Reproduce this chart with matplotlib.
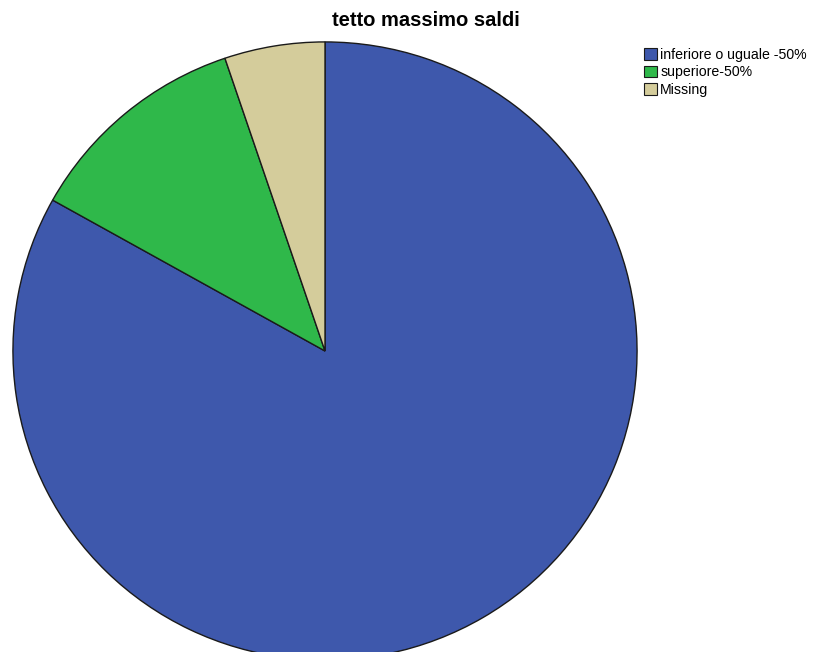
import matplotlib.pyplot as plt
from matplotlib.patches import Patch

plt.rcParams["font.family"] = ["Liberation Sans", "DejaVu Sans"]

labels = ["inferiore o uguale -50%", "superiore-50%", "Missing"]
counts = [64, 9, 4]
colors = ["#3E58AC", "#2FB84A", "#D4CC9B"]

fig = plt.figure(figsize=(8.17, 6.52), dpi=100)
ax = fig.add_axes([12 / 817, -9 / 652, 626 / 817, 620 / 652])
ax.pie(counts, colors=colors, startangle=90, counterclock=False, radius=1.0,
       wedgeprops={"edgecolor": "#1a1a1a", "linewidth": 1.0})
ax.set_xlim(-1.003, 1.003)
ax.set_ylim(-1.003, 1.003)
ax.set_aspect("auto")
ax.axis("off")

fig.text(426 / 817, 1 - 20 / 652, "tetto massimo saldi", ha="center", va="center",
         fontsize=14.5, fontweight="bold")

handles = [Patch(facecolor=c, edgecolor="#1a1a1a", linewidth=0.8) for c in colors]
fig.legend(handles, labels, loc="upper left", bbox_to_anchor=(634 / 817, 1 - 38 / 652),
           frameon=False, fontsize=10.2, handlelength=0.9, handleheight=0.9,
           handletextpad=0.25, labelspacing=0.25, borderpad=0.2)

fig.savefig("out.png", dpi=100)
